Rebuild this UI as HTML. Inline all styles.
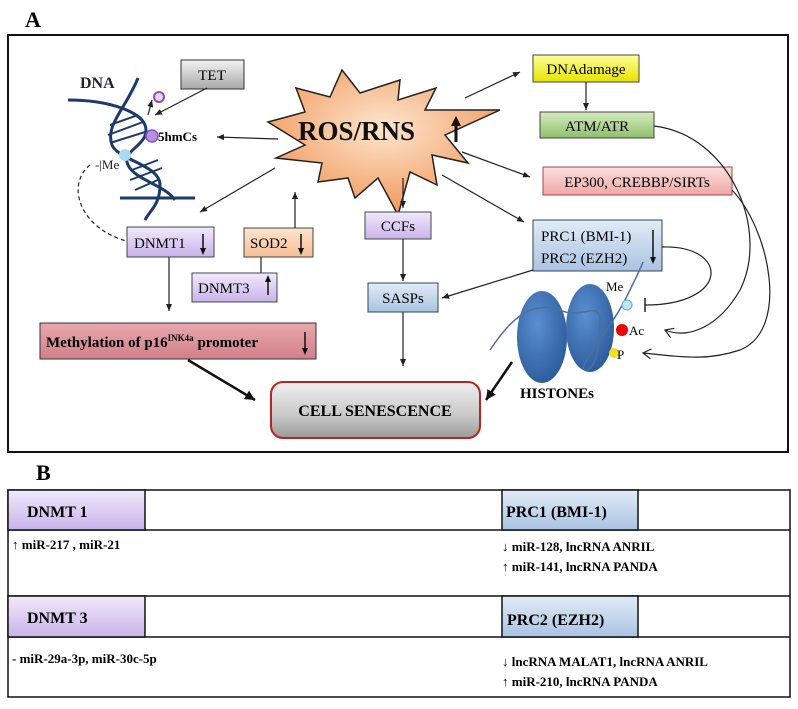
<!DOCTYPE html>
<html><head><meta charset="utf-8"><style>
body{margin:0;background:#fff;width:798px;height:709px;overflow:hidden;font-family:"Liberation Serif",serif}
svg{position:absolute;left:0;top:0}
</style></head><body>
<svg width="798" height="709" viewBox="0 0 798 709" font-family="Liberation Serif, serif">
<defs>
<marker id="a" markerWidth="8" markerHeight="8" refX="7" refY="4" orient="auto" markerUnits="userSpaceOnUse"><path d="M0,1 L7,4 L0,7 z" fill="#222"/></marker>
<marker id="b" markerWidth="12" markerHeight="12" refX="10" refY="6" orient="auto" markerUnits="userSpaceOnUse"><path d="M0,1 L10,6 L0,11 z" fill="#111"/></marker>
<marker id="o" markerWidth="12" markerHeight="12" refX="10" refY="6" orient="auto" markerUnits="userSpaceOnUse"><path d="M2,1 L10,6 L2,11" fill="none" stroke="#222" stroke-width="1.2"/></marker>
<linearGradient id="gGray" x1="0" y1="0" x2="0" y2="1"><stop offset="0" stop-color="#f2f2f2"/><stop offset="1" stop-color="#a8a8a8"/></linearGradient>
<linearGradient id="gCell" x1="0" y1="0" x2="0" y2="1"><stop offset="0" stop-color="#f0f0f0"/><stop offset="0.6" stop-color="#c8c8c8"/><stop offset="1" stop-color="#9a9a9a"/></linearGradient>
<linearGradient id="gY" x1="0" y1="0" x2="0" y2="1"><stop offset="0" stop-color="#ffff9a"/><stop offset="1" stop-color="#e6e400"/></linearGradient>
<linearGradient id="gG" x1="0" y1="0" x2="0" y2="1"><stop offset="0" stop-color="#d6ecc0"/><stop offset="1" stop-color="#8fbf6a"/></linearGradient>
<linearGradient id="gP" x1="0" y1="0" x2="0" y2="1"><stop offset="0" stop-color="#fbe0e0"/><stop offset="1" stop-color="#f0a6a6"/></linearGradient>
<linearGradient id="gV" x1="0" y1="0" x2="0" y2="1"><stop offset="0" stop-color="#f1e9fb"/><stop offset="1" stop-color="#c9b3ea"/></linearGradient>
<linearGradient id="gB" x1="0" y1="0" x2="0" y2="1"><stop offset="0" stop-color="#e2ecf7"/><stop offset="1" stop-color="#a9c3e2"/></linearGradient>
<linearGradient id="gO" x1="0" y1="0" x2="0" y2="1"><stop offset="0" stop-color="#fde4d0"/><stop offset="1" stop-color="#f5bf95"/></linearGradient>
<linearGradient id="gR" x1="0" y1="0" x2="0" y2="1"><stop offset="0" stop-color="#e9a8ae"/><stop offset="1" stop-color="#d17f88"/></linearGradient>
<radialGradient id="gStar" cx="0.5" cy="0.4" r="0.6"><stop offset="0" stop-color="#fde6cf"/><stop offset="1" stop-color="#f1975a"/></radialGradient>
<radialGradient id="gH" cx="0.4" cy="0.35" r="0.7"><stop offset="0" stop-color="#5a8fd0"/><stop offset="1" stop-color="#2b5a9a"/></radialGradient>
</defs>

<text x="25" y="27" font-size="22" font-weight="bold">A</text>
<rect x="8" y="35" width="780" height="417" fill="none" stroke="#111" stroke-width="2"/>

<!-- DNA -->
<text x="80" y="88" font-size="16" font-weight="bold" fill="#223">DNA</text>
<g stroke="#1d3a6a" stroke-width="3" fill="none">
<path d="M68,100 C110,100 140,112 145,125 C152,145 120,150 128,165 C135,180 165,185 175,200"/>
<path d="M138,78 C125,110 105,125 112,145 C118,160 160,165 160,185 C160,205 150,210 145,220"/>
<path d="M120,198 L195,198"/>
</g>
<g stroke="#1d3a6a" stroke-width="2">
<line x1="110" y1="125" x2="138" y2="115"/><line x1="108" y1="135" x2="143" y2="122"/><line x1="110" y1="143" x2="145" y2="132"/>
<line x1="132" y1="170" x2="158" y2="160"/><line x1="130" y1="180" x2="162" y2="168"/><line x1="135" y1="190" x2="160" y2="179"/>
</g>
<circle cx="159" cy="97" r="5" fill="#e6d5f5" stroke="#8a4fc0" stroke-width="2"/>
<path d="M148,115 L152,100" stroke="#222" stroke-width="1.2" marker-end="url(#a)"/>
<circle cx="152" cy="136" r="6" fill="#b694dd" stroke="#8a4fc0" stroke-width="1.5"/>
<text x="158" y="141" font-size="13" font-weight="bold">5hmCs</text>
<circle cx="125" cy="155" r="6" fill="#a7dbef"/>
<text x="95" y="169" font-size="13" fill="#222">-|Me</text>
<path d="M90,165 C65,185 80,230 130,242" fill="none" stroke="#222" stroke-width="1.2" stroke-dasharray="4,3"/>

<!-- TET -->
<rect x="181" y="60" width="63" height="29" fill="url(#gGray)" stroke="#333"/>
<text x="212" y="80" font-size="15" text-anchor="middle">TET</text>
<line x1="207" y1="88" x2="155" y2="115" stroke="#222" stroke-width="1.2" marker-end="url(#a)"/>

<!-- ROS star -->
<polygon points="268,122 305,112 296,88 330,97 342,70 360,93 400,80 398,100 436,88 425,110 500,110 445,135 468,163 432,155 437,185 410,172 398,215 378,178 355,198 348,178 318,182 322,163 276,158 305,145" fill="url(#gStar)" stroke="#222" stroke-width="1.5"/>
<text x="298" y="140" font-size="27" font-weight="bold" fill="#111">ROS/RNS</text>
<path d="M456,142 L456,122" stroke="#111" stroke-width="3"/><path d="M451,126 L456,116 L461,126z" fill="#111"/>

<!-- arrows from ROS -->
<line x1="278" y1="139" x2="217" y2="137" stroke="#222" stroke-width="1.2" marker-end="url(#a)"/>
<line x1="275" y1="168" x2="200" y2="212" stroke="#222" stroke-width="1.2" marker-end="url(#a)"/>
<line x1="465" y1="98" x2="520" y2="72" stroke="#222" stroke-width="1.2" marker-end="url(#a)"/>
<line x1="462" y1="152" x2="530" y2="177" stroke="#222" stroke-width="1.2" marker-end="url(#a)"/>
<line x1="442" y1="175" x2="524" y2="222" stroke="#222" stroke-width="1.2" marker-end="url(#a)"/>
<line x1="403" y1="178" x2="403" y2="208" stroke="#222" stroke-width="1.2" marker-end="url(#a)"/>

<!-- right boxes -->
<rect x="533" y="55" width="106" height="27" fill="url(#gY)" stroke="#444"/>
<text x="586" y="74" font-size="15" text-anchor="middle">DNAdamage</text>
<line x1="586" y1="82" x2="586" y2="110" stroke="#222" stroke-width="1.2" marker-end="url(#a)"/>
<rect x="540" y="112" width="114" height="26" fill="url(#gG)" stroke="#444"/>
<text x="597" y="131" font-size="15" text-anchor="middle">ATM/ATR</text>
<rect x="543" y="167" width="189" height="28" fill="url(#gP)" stroke="#a44"/>
<text x="637" y="187" font-size="15" text-anchor="middle">EP300, CREBBP/SIRTs</text>
<rect x="533" y="220" width="129" height="51" fill="url(#gB)" stroke="#345"/>
<text x="541" y="241" font-size="15">PRC1 (BMI-1)</text>
<text x="541" y="263" font-size="15">PRC2 (EZH2)</text>
<path d="M653,230 L653,262" stroke="#111" stroke-width="1.5"/><path d="M650,257 L653,264 L656,257z" fill="#111"/>

<!-- long curves -->
<path d="M654,126 C730,135 770,230 740,290 C720,325 690,340 665,330" fill="none" stroke="#222" stroke-width="1.2" marker-end="url(#o)"/>
<path d="M732,190 C770,230 790,330 740,350 C710,360 690,358 643,353" fill="none" stroke="#222" stroke-width="1.2" marker-end="url(#o)"/>
<path d="M662,247 C730,245 730,305 645,305" fill="none" stroke="#222" stroke-width="1.2"/>
<line x1="645" y1="298" x2="645" y2="312" stroke="#222" stroke-width="1.5"/>

<!-- CCFs / SASPs -->
<rect x="365" y="212" width="66" height="27" fill="url(#gV)" stroke="#444"/>
<text x="398" y="231" font-size="15" text-anchor="middle">CCFs</text>
<line x1="403" y1="239" x2="403" y2="281" stroke="#222" stroke-width="1.2" marker-end="url(#a)"/>
<rect x="368" y="283" width="70" height="29" fill="url(#gB)" stroke="#345"/>
<text x="403" y="303" font-size="15" text-anchor="middle">SASPs</text>
<line x1="533" y1="270" x2="442" y2="298" stroke="#222" stroke-width="1.2" marker-end="url(#a)"/>
<line x1="403" y1="312" x2="403" y2="366" stroke="#222" stroke-width="1.2" marker-end="url(#a)"/>

<!-- left boxes -->
<rect x="127" y="227" width="87" height="30" fill="url(#gV)" stroke="#444"/>
<text x="134" y="248" font-size="15">DNMT1</text>
<path d="M203,234 L203,252" stroke="#111" stroke-width="1.5"/><path d="M200,248 L203,255 L206,248z" fill="#111"/>
<rect x="244" y="228" width="69" height="29" fill="url(#gO)" stroke="#444"/>
<text x="250" y="248" font-size="15">SOD2</text>
<path d="M301,234 L301,252" stroke="#111" stroke-width="1.5"/><path d="M298,248 L301,255 L304,248z" fill="#111"/>
<line x1="295" y1="228" x2="295" y2="192" stroke="#222" stroke-width="1.2" marker-end="url(#a)"/>
<line x1="261" y1="257" x2="261" y2="273" stroke="#222" stroke-width="1.2"/>
<rect x="192" y="273" width="85" height="29" fill="url(#gV)" stroke="#444"/>
<text x="198" y="293" font-size="15">DNMT3</text>
<path d="M268,295 L268,278" stroke="#111" stroke-width="1.5"/><path d="M265,282 L268,275 L271,282z" fill="#111"/>
<line x1="169" y1="257" x2="169" y2="311" stroke="#222" stroke-width="1.2" marker-end="url(#a)"/>
<rect x="40" y="323" width="276" height="36" fill="url(#gR)" stroke="#333"/>
<text x="46" y="347" font-size="15" font-weight="bold">Methylation of p16<tspan font-size="9" dy="-6">INK4a</tspan><tspan dy="6"> promoter</tspan></text>
<path d="M305,332 L305,352" stroke="#111" stroke-width="1.5"/><path d="M302,348 L305,355 L308,348z" fill="#111"/>
<line x1="188" y1="360" x2="255" y2="400" stroke="#111" stroke-width="2.5" marker-end="url(#b)"/>

<!-- histones -->
<ellipse cx="542" cy="337" rx="25" ry="46" fill="url(#gH)"/>
<ellipse cx="590" cy="328" rx="24" ry="44" fill="url(#gH)"/>
<path d="M490,350 C510,320 530,300 560,310 C580,320 600,300 600,320 C600,350 595,370 585,370 C575,370 610,330 625,300 C635,280 640,270 643,262" fill="none" stroke="#4a6fa0" stroke-width="1.5"/>
<text x="606" y="291" font-size="13">Me</text>
<circle cx="627" cy="305" r="5" fill="#bfe6f5" stroke="#6ab" stroke-width="1"/>
<circle cx="622" cy="330" r="6" fill="#e00"/>
<text x="629" y="335" font-size="13">Ac</text>
<circle cx="614" cy="353" r="5" fill="#f2e020"/>
<text x="617" y="359" font-size="13">P</text>
<text x="520" y="398" font-size="15" font-weight="bold">HISTONEs</text>
<line x1="512" y1="362" x2="486" y2="400" stroke="#111" stroke-width="2.5" marker-end="url(#b)"/>

<!-- cell senescence -->
<rect x="271" y="382" width="209" height="56" rx="12" fill="url(#gCell)" stroke="#b22" stroke-width="2"/>
<text x="375" y="416" font-size="16" font-weight="bold" text-anchor="middle">CELL SENESCENCE</text>

<!-- Part B -->
<text x="36" y="480" font-size="22" font-weight="bold">B</text>
<g stroke="#111" stroke-width="1.5" fill="none">
<rect x="8" y="490" width="782" height="207"/>
<line x1="8" y1="530" x2="790" y2="530"/>
<line x1="8" y1="596" x2="790" y2="596"/>
<line x1="8" y1="637" x2="790" y2="637"/>
</g>
<rect x="8" y="490" width="137" height="40" fill="url(#gV)" stroke="#111" stroke-width="1.5"/>
<rect x="502" y="490" width="136" height="40" fill="url(#gB)" stroke="#111" stroke-width="1.5"/>
<rect x="8" y="596" width="137" height="41" fill="url(#gV)" stroke="#111" stroke-width="1.5"/>
<rect x="502" y="596" width="136" height="41" fill="url(#gB)" stroke="#111" stroke-width="1.5"/>
<g font-weight="bold" font-size="16">
<text x="27" y="517">DNMT 1</text>
<text x="506" y="517">PRC1 (BMI-1)</text>
<text x="27" y="623">DNMT 3</text>
<text x="507" y="625">PRC2 (EZH2)</text>
</g>
<g font-weight="bold" font-size="13">
<text x="12" y="549">↑ miR-217 , miR-21</text>
<text x="502" y="551">↓ miR-128, lncRNA ANRIL</text>
<text x="502" y="571">↑ miR-141, lncRNA PANDA</text>
<text x="12" y="663">- miR-29a-3p, miR-30c-5p</text>
<text x="502" y="666">↓ lncRNA MALAT1, lncRNA ANRIL</text>
<text x="502" y="686">↑ miR-210, lncRNA PANDA</text>
</g>
</svg>
</body></html>
